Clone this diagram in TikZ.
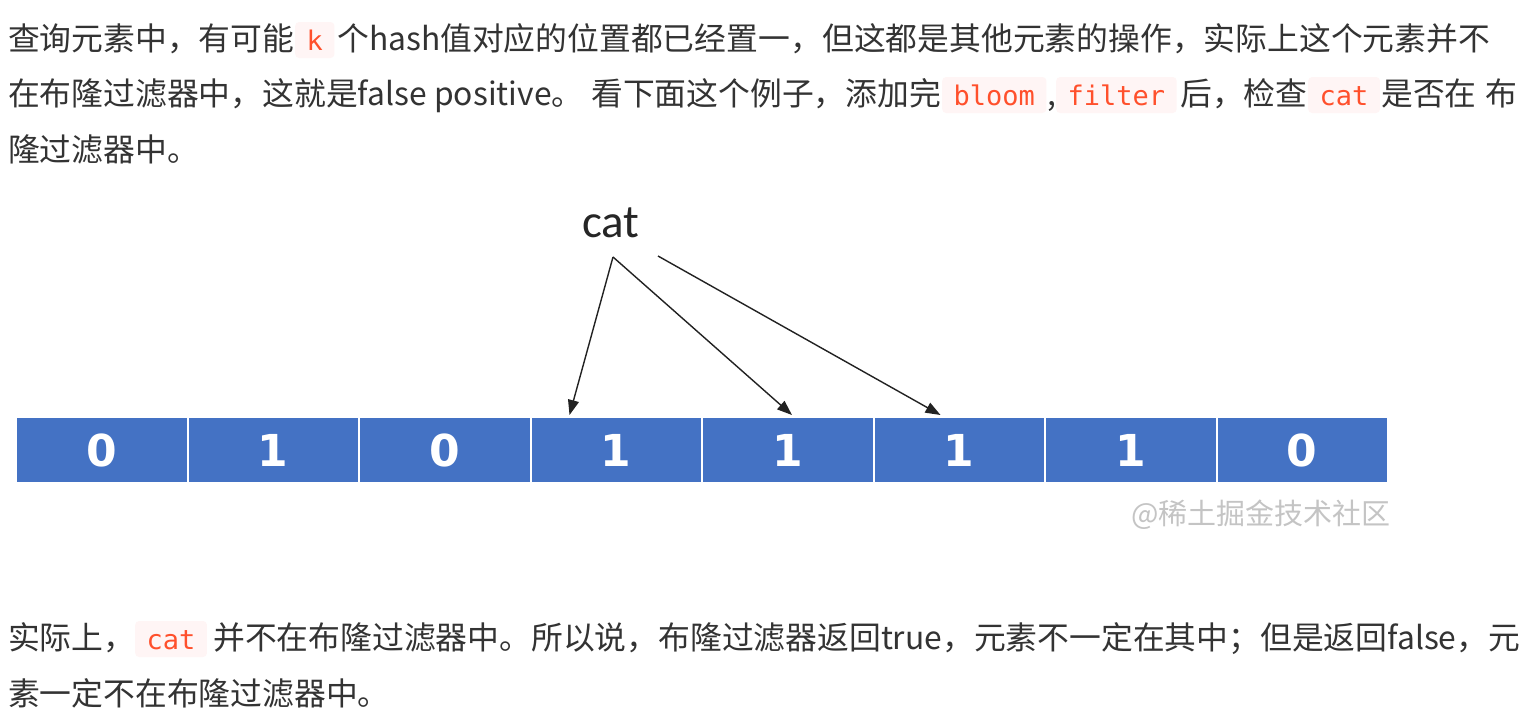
\documentclass[tikz,border=0pt]{standalone}
\usepackage{fontspec}
\usetikzlibrary{arrows.meta,calc}
\newfontfamily\cjk{Noto Sans CJK SC}
\newfontfamily\codefont{DejaVu Sans Mono}
\newfontfamily\digitfont{DejaVu Sans}
\newfontfamily\catfont{Carlito}
\definecolor{txtgray}{HTML}{333333}
\definecolor{codered}{HTML}{FF502C}
\definecolor{codebg}{HTML}{FFF5F5}
\definecolor{barblue}{HTML}{4472C4}
\definecolor{arrgray}{HTML}{222222}
\definecolor{wmgray}{HTML}{C4C4C4}
\tikzset{
  txt/.style={inner sep=0pt, anchor=base west, text=txtgray, font=\cjk\fontsize{31.8pt}{38pt}\selectfont},
  code/.style={inner xsep=11.5pt, inner ysep=0pt, text height=28pt, text depth=8pt, anchor=base west,
    fill=codebg, rounded corners=4pt, text=codered, font=\codefont\fontsize{27pt}{32pt}\selectfont},
  cell/.style={anchor=north west, minimum width=171.5pt, minimum height=66pt, inner sep=0pt,
    fill=barblue, draw=white, line width=2pt, text=white, font=\digitfont\bfseries\fontsize{44pt}{50pt}\selectfont},
  arr/.style={-{Triangle[length=15pt,width=11pt]}, line width=1.4pt, draw=arrgray},
  wm/.style={inner sep=0pt, anchor=west, text=wmgray, font=\cjk\fontsize{29pt}{34pt}\selectfont},
  catlabel/.style={inner sep=0pt, anchor=base, text=black!85, font=\catfont\fontsize{47pt}{52pt}\selectfont}
}
\begin{document}
\begin{tikzpicture}[x=1pt,y=-1pt]
\useasboundingbox[fill=white] (0,0) rectangle (1540,724);
% paragraph 1
\node[txt] (l1a) at (8,50) {查询元素中，有可能};
\node[code] (k1) at (295,50) {k};
\node[txt] (l1b) at (337,50) {个hash值对应的位置都已经置一，};
\node[txt] (l1c) at (822,50) {但这都是其他元素的操作，实际上这个元素并不};
\node[txt] (l2a) at (8,105) {在布隆过滤器中，这就是false positive。};
\node[txt] (l2b) at (591,105) {看下面这个例子，添加完};
\node[code] (bloom) at (942,105) {bloom};
\node[txt] (l2c) at (1047,105) {,};
\node[code] (filter) at (1056,105) {filter};
\node[txt] (l2d) at (1180,105) {后，检查};
\node[code] (cat1) at (1308,105) {cat};
\node[txt] (l2e) at (1381,105) {是否在};
\node[txt] (l2f) at (1485,105) {布};
\node[txt] (l3) at (8,161) {隆过滤器中。};
% diagram
\node[catlabel] (cat) at (611,237) {cat};
\foreach \v [count=\i] in {0,1,0,1,1,1,1,0}
  \node[cell] (c\i) at ({15+(\i-1)*171.5},416) {\v};
\coordinate (s1) at ($(cat.base)+(2,20)$);
\coordinate (s3) at ($(cat.base)+(47,19)$);
\coordinate (t1) at ($(c4.north west)+(40,-1)$);
\coordinate (t2) at ($(c5.north west)+(91,-1)$);
\coordinate (t3) at ($(c6.north west)+(68,-1)$);
\draw[arr] (s1) -- (t1);
\draw[arr] (s1) -- (t2);
\draw[arr] (s3) -- (t3);
\node[wm] (wmark) at (1131,515) {@稀土掘金技术社区};
% paragraph 2
\node[txt] (b1a) at (8,649) {实际上，};
\node[code] (cat2) at (135,649) {cat};
\node[txt] (b1b) at (213,649) {并不在布隆过滤器中。所以说，布隆过滤器返回true，元素不一定在其中；但是返回false，元};
\node[txt] (b2) at (8,705) {素一定不在布隆过滤器中。};
\end{tikzpicture}
\end{document}
